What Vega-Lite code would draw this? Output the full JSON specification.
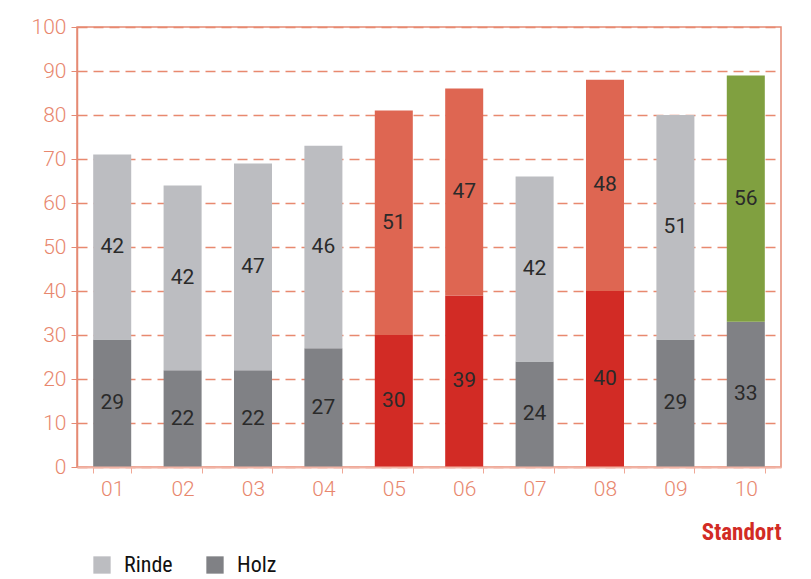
{
  "$schema": "https://vega.github.io/schema/vega-lite/v6.json",
  "width": 704,
  "height": 440,
  "autosize": {"type": "none"},
  "padding": {"left": 77, "top": 27, "right": 30, "bottom": 112},
  "background": "white",
  "config": {
    "font": "Liberation Sans Narrow, Roboto Condensed, Roboto, sans-serif",
    "view": {"stroke": "#e58a74", "strokeWidth": 1.5},
    "axisY": {
      "title": null,
      "labelFont": "Roboto",
      "labelFontWeight": 300,
      "labelFontSize": 21,
      "labelColor": "#e8876e",
      "labelPadding": 5,
      "domainColor": "#e58a74",
      "domainWidth": 1.5,
      "tickColor": "#e58a74",
      "tickSize": 6,
      "grid": true,
      "gridColor": "#e8896f",
      "gridDash": [10, 6],
      "gridWidth": 1.5
    },
    "axisX": {
      "labelFont": "Roboto",
      "labelFontWeight": 300,
      "labelFontSize": 21,
      "labelColor": "#e8876e",
      "labelAngle": 0,
      "labelPadding": 5,
      "domainColor": "#f2b4a5",
      "domainWidth": 2,
      "tickColor": "#f0a896",
      "tickSize": 6,
      "grid": false
    }
  },
  "data": {
    "values": [
      {"Standort": "01", "Teil": "Holz", "Kategorie": "Holz", "Wert": 29},
      {"Standort": "01", "Teil": "Rinde", "Kategorie": "Rinde", "Wert": 42},
      {"Standort": "02", "Teil": "Holz", "Kategorie": "Holz", "Wert": 22},
      {"Standort": "02", "Teil": "Rinde", "Kategorie": "Rinde", "Wert": 42},
      {"Standort": "03", "Teil": "Holz", "Kategorie": "Holz", "Wert": 22},
      {"Standort": "03", "Teil": "Rinde", "Kategorie": "Rinde", "Wert": 47},
      {"Standort": "04", "Teil": "Holz", "Kategorie": "Holz", "Wert": 27},
      {"Standort": "04", "Teil": "Rinde", "Kategorie": "Rinde", "Wert": 46},
      {"Standort": "05", "Teil": "Holz", "Kategorie": "Holz rot", "Wert": 30},
      {"Standort": "05", "Teil": "Rinde", "Kategorie": "Rinde rot", "Wert": 51},
      {"Standort": "06", "Teil": "Holz", "Kategorie": "Holz rot", "Wert": 39},
      {"Standort": "06", "Teil": "Rinde", "Kategorie": "Rinde rot", "Wert": 47},
      {"Standort": "07", "Teil": "Holz", "Kategorie": "Holz", "Wert": 24},
      {"Standort": "07", "Teil": "Rinde", "Kategorie": "Rinde", "Wert": 42},
      {"Standort": "08", "Teil": "Holz", "Kategorie": "Holz rot", "Wert": 40},
      {"Standort": "08", "Teil": "Rinde", "Kategorie": "Rinde rot", "Wert": 48},
      {"Standort": "09", "Teil": "Holz", "Kategorie": "Holz", "Wert": 29},
      {"Standort": "09", "Teil": "Rinde", "Kategorie": "Rinde", "Wert": 51},
      {"Standort": "10", "Teil": "Holz", "Kategorie": "Holz", "Wert": 33},
      {"Standort": "10", "Teil": "Rinde", "Kategorie": "Rinde grün", "Wert": 56}
    ]
  },
  "transform": [
    {"stack": "Wert", "groupby": ["Standort"], "sort": [{"field": "Teil", "order": "ascending"}], "as": ["y0", "y1"]},
    {"calculate": "(datum.y0 + datum.y1) / 2", "as": "mitte"}
  ],
  "encoding": {
    "x": {
      "field": "Standort",
      "type": "ordinal",
      "scale": {"paddingInner": 0.46, "paddingOuter": 0.23},
      "axis": {
        "title": "Standort",
        "titleAnchor": "end",
        "titleAlign": "right",
        "titleFontSize": 23,
        "titleFontWeight": "bold",
        "titleColor": "#d22b25",
        "titlePadding": 22,
        "tickBand": "extent",
        "zindex": 1
      }
    }
  },
  "layer": [
    {
      "mark": {"type": "bar"},
      "encoding": {
        "y": {
          "field": "y0",
          "type": "quantitative",
          "scale": {"domain": [0, 100]},
          "axis": {"values": [0, 10, 20, 30, 40, 50, 60, 70, 80, 90, 100]}
        },
        "y2": {"field": "y1"},
        "color": {
          "field": "Kategorie",
          "type": "nominal",
          "scale": {
            "domain": ["Rinde", "Holz", "Rinde rot", "Holz rot", "Rinde grün"],
            "range": ["#bcbdc1", "#808185", "#de6652", "#d22b25", "#80a040"]
          },
          "legend": {
            "title": null,
            "values": ["Rinde", "Holz"],
            "orient": "none",
            "legendX": 14,
            "legendY": 527,
            "direction": "horizontal",
            "symbolType": "square",
            "symbolSize": 300,
            "symbolStrokeWidth": 0,
            "labelFontSize": 22,
            "labelColor": "#111111",
            "labelOffset": 11,
            "columnPadding": 31
          }
        }
      }
    },
    {
      "mark": {"type": "text", "fontSize": 21, "font": "Roboto", "color": "#2a2a2a", "baseline": "middle"},
      "encoding": {
        "y": {"field": "mitte", "type": "quantitative"},
        "text": {"field": "Wert", "type": "quantitative"}
      }
    }
  ]
}
